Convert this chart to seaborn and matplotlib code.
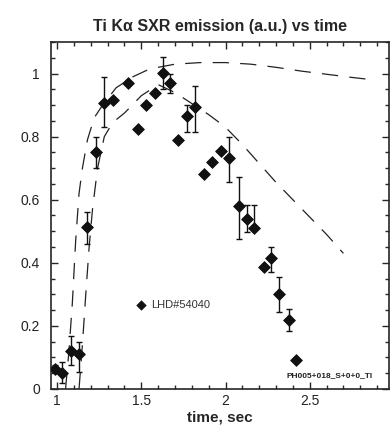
import matplotlib
matplotlib.use("Agg")
import matplotlib.pyplot as plt
from matplotlib.ticker import MultipleLocator
import numpy as np
import pandas as pd
import seaborn as sns

# measured points (LHD#54040)
time_pts = [0.99, 1.03, 1.08, 1.13, 1.18, 1.23, 1.28, 1.33, 1.42, 1.48, 1.53, 1.58, 1.63, 1.67,
            1.72, 1.77, 1.82, 1.87, 1.92, 1.975, 2.02, 2.08, 2.13, 2.17, 2.23, 2.27, 2.32, 2.375, 2.42]
sxr_pts = [0.063, 0.05, 0.12, 0.11, 0.515, 0.75, 0.907, 0.915, 0.97, 0.825, 0.90, 0.94, 1.003, 0.97,
           0.79, 0.866, 0.895, 0.68, 0.72, 0.755, 0.733, 0.58, 0.54, 0.51, 0.385, 0.415, 0.30, 0.22, 0.09]
err_lo = [0.063, 0.02, 0.075, 0.055, 0.46, 0.70, 0.83, 0.915, 0.97, 0.825, 0.90, 0.94, 0.95, 0.94,
          0.79, 0.816, 0.816, 0.68, 0.72, 0.755, 0.657, 0.476, 0.498, 0.51, 0.385, 0.37, 0.245, 0.184, 0.09]
err_hi = [0.075, 0.086, 0.168, 0.15, 0.56, 0.80, 0.99, 0.915, 0.97, 0.825, 0.90, 0.94, 1.054, 1.0,
          0.79, 0.90, 0.962, 0.68, 0.72, 0.755, 0.80, 0.673, 0.584, 0.584, 0.385, 0.45, 0.356, 0.254, 0.09]

# model curves (dashed)
curve_a_t = [1.05, 1.07, 1.09, 1.11, 1.13, 1.15, 1.18, 1.22, 1.27, 1.35, 1.45, 1.55, 1.7, 1.85,
             2.0, 2.15, 2.3, 2.45, 2.6, 2.75, 2.88]
curve_a_v = [0.0, 0.12, 0.27, 0.47, 0.62, 0.70, 0.79, 0.86, 0.90, 0.955, 0.99, 1.015, 1.03, 1.035,
             1.035, 1.03, 1.02, 1.008, 0.998, 0.988, 0.98]
curve_b_t = [1.13, 1.15, 1.17, 1.19, 1.21, 1.24, 1.28, 1.33, 1.4, 1.5, 1.6, 1.7, 1.8, 1.9,
             2.0, 2.1, 2.2, 2.3, 2.4, 2.5, 2.6, 2.7]
curve_b_v = [0.0, 0.14, 0.30, 0.45, 0.57, 0.70, 0.80, 0.845, 0.875, 0.93, 0.965, 0.94, 0.905, 0.87,
             0.83, 0.775, 0.715, 0.655, 0.60, 0.545, 0.49, 0.43]

pts = pd.DataFrame({"time": time_pts, "sxr": sxr_pts})
ca = pd.DataFrame({"time": curve_a_t, "sxr": curve_a_v})
cb = pd.DataFrame({"time": curve_b_t, "sxr": curve_b_v})

sns.set_style("ticks")
plt.rcParams["font.family"] = ["Liberation Sans", "DejaVu Sans"]

fig = plt.figure(figsize=(3.9, 4.34), dpi=100)
ax = fig.add_axes([0.131, 0.104, 0.866, 0.799])

sns.lineplot(data=ca, x="time", y="sxr", ax=ax, color="#222222", lw=0.9,
             linestyle=(0, (13, 9)), sort=False)
sns.lineplot(data=cb, x="time", y="sxr", ax=ax, color="#222222", lw=0.9,
             linestyle=(0, (13, 9)), sort=False)

yerr = [np.array(sxr_pts) - np.array(err_lo), np.array(err_hi) - np.array(sxr_pts)]
ax.errorbar(time_pts, sxr_pts, yerr=yerr, fmt="none", ecolor="#111111", elinewidth=1.0,
            capsize=2, capthick=1.0)
sns.scatterplot(data=pts, x="time", y="sxr", ax=ax, marker="D", s=36, color="#111111",
                edgecolor="#111111", linewidth=0.6, zorder=5)

# legend entry drawn inside the axes
sns.scatterplot(x=[1.5], y=[0.265], ax=ax, marker="D", s=24, color="#111111", edgecolor="#111111")
ax.text(1.56, 0.265, "LHD#54040", fontsize=8, va="center", ha="left", color="#333333")
ax.text(2.36, 0.042, "PH005+018_S+0+0_TI", fontsize=6, va="center", ha="left",
        fontweight="bold", color="#222222", clip_on=False)

ax.set_xlim(0.964, 2.97)
ax.set_ylim(0, 1.10)
ax.xaxis.set_major_locator(MultipleLocator(0.5))
ax.xaxis.set_minor_locator(MultipleLocator(0.1))
ax.yaxis.set_major_locator(MultipleLocator(0.2))
ax.yaxis.set_minor_locator(MultipleLocator(0.05))
ax.set_xticks([1, 1.5, 2, 2.5])
ax.set_xticklabels(["1", "1.5", "2", "2.5"])
ax.set_yticks([0, 0.2, 0.4, 0.6, 0.8, 1.0])
ax.set_yticklabels(["0", "0.2", "0.4", "0.6", "0.8", "1"])
ax.tick_params(which="both", direction="in", top=True, right=True, width=1.0)
ax.tick_params(which="major", length=5, labelsize=10, labelcolor="#222222")
ax.tick_params(which="minor", length=3)
ax.tick_params(axis="y", pad=8)
for s in ax.spines.values():
    s.set_linewidth(1.2)

ax.set_xlabel("time, sec", fontsize=11, fontweight="bold", labelpad=2)
ax.set_ylabel("")
ax.set_title("Ti K\u03b1 SXR emission (a.u.) vs time", fontsize=11.5, fontweight="bold", pad=8)

fig.savefig("out.png", dpi=100)
